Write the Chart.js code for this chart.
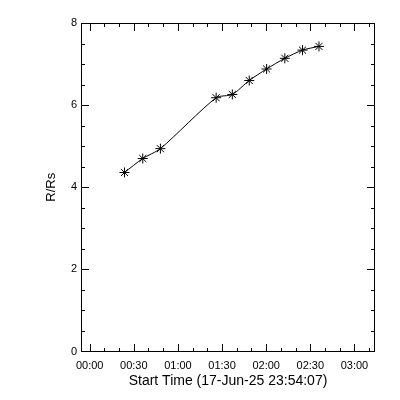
<!DOCTYPE html>
<html>
<head>
<meta charset="utf-8">
<script src="https://cdn.jsdelivr.net/npm/chart.js@4"></script>
<style>
  html, body { margin: 0; padding: 0; background: #fff; }
  #wrap { width: 400px; height: 400px; }
</style>
</head>
<body>
<div id="wrap"><canvas id="chart-height"></canvas></div>
<script>
// DATOS (tiempos UT del 18-Jun, altura en radios solares)
const obsTimes = ['00:23:42', '00:36:06', '00:48:06', '01:26:00', '01:37:00',
                  '01:48:30', '02:00:18', '02:12:42', '02:24:42', '02:35:54'];
const heights = [4.36, 4.70, 4.94, 6.18, 6.26, 6.60, 6.88, 7.14, 7.34, 7.43];
const xTickLabels = ['00:00', '00:30', '01:00', '01:30', '02:00', '02:30', '03:00'];
const yTicks = [0, 2, 4, 6, 8];
const startLabel = 'Start Time (17-Jun-25 23:54:07)';

// minutos respecto a 00:00
function toMinutes(s) {
  const p = s.split(':').map(Number);
  return p[0] * 60 + p[1] + (p[2] || 0) / 60;
}

const points = obsTimes.map((t, i) => ({ x: toMinutes(t), y: heights[i] }));
const xMajors = xTickLabels.map(toMinutes);
const xMin = -(5 + 53 / 60);   // 23:54:07
const xMax = 194;

// MARCO Y MARCAS INTERIORES ESTILO IDL
const framePlugin = {
  id: 'frame',
  afterDraw(chart) {
    const c = chart.ctx;
    const a = chart.chartArea;
    const xs = chart.scales.x, ys = chart.scales.y;
    const L = Math.round(a.left), R = Math.round(a.right) - 1;
    const T = Math.round(a.top), B = Math.round(a.bottom) - 1;
    c.save();
    c.fillStyle = '#000';
    // marco
    c.fillRect(L, T, R - L + 1, 1);
    c.fillRect(L, B, R - L + 1, 1);
    c.fillRect(L, T, 1, B - T + 1);
    c.fillRect(R, T, 1, B - T + 1);
    // eje x: menores cada 10 min, mayores cada 30
    for (let k = 0; k * 10 <= xMax; k++) {
      const px = Math.round(xs.getPixelForValue(k * 10));
      const len = (k % 3 === 0) ? 8 : 4;
      c.fillRect(px, B - len + 1, 1, len);
      c.fillRect(px, T, 1, len);
    }
    // eje y: menores cada 0.5, mayores cada 2
    for (let k = 0; k <= 16; k++) {
      const py = Math.min(B, Math.round(ys.getPixelForValue(k * 0.5)));
      const len = (k % 4 === 0) ? 8 : 4;
      c.fillRect(L, py, len, 1);
      c.fillRect(R - len + 1, py, len, 1);
    }
    c.restore();
  }
};

const canvas = document.getElementById('chart-height');
const chartHeight = new Chart(canvas, {
  type: 'scatter',
  data: {
    datasets: [
      {
        label: 'ajuste',
        data: points,
        showLine: true,
        borderColor: '#000',
        borderWidth: 1,
        pointRadius: 0,
        tension: 0.25,
        fill: false
      },
      {
        label: 'R/Rs',
        data: points,
        pointStyle: 'star',
        pointRadius: 5,
        borderColor: '#000',
        backgroundColor: '#000',
        borderWidth: 1,
        showLine: false
      }
    ]
  },
  options: {
    responsive: true,
    maintainAspectRatio: false,
    animation: false,
    layout: { padding: { top: 23, right: 25, left: 0, bottom: 0 } },
    plugins: {
      legend: { display: false },
      tooltip: { enabled: false }
    },
    scales: {
      x: {
        type: 'linear',
        min: xMin,
        max: xMax,
        grid: { display: false, drawTicks: false },
        border: { display: false },
        afterBuildTicks: scale => {
          scale.ticks = xMajors.map(v => ({ value: v }));
        },
        afterFit: scale => { scale.height = 48.5; },
        ticks: {
          color: '#000',
          padding: 8,
          maxRotation: 0,
          autoSkip: false,
          font: { family: 'Liberation Sans', size: 11 },
          callback: (v) => {
            const i = xMajors.indexOf(v);
            return i >= 0 ? xTickLabels[i] : '';
          }
        },
        title: {
          display: true,
          text: startLabel,
          color: '#000',
          padding: { top: 0, bottom: 10 },
          font: { family: 'Liberation Sans', size: 14 }
        }
      },
      y: {
        min: 0,
        max: 8,
        grid: { display: false, drawTicks: false },
        border: { display: false },
        afterBuildTicks: scale => {
          scale.ticks = yTicks.map(v => ({ value: v }));
        },
        afterFit: scale => { scale.width = 81; },
        ticks: {
          color: '#000',
          padding: 4,
          font: { family: 'Liberation Sans', size: 11 }
        },
        title: {
          display: true,
          text: 'R/Rs',
          color: '#000',
          padding: { top: 44, bottom: 0 },
          font: { family: 'Liberation Sans', size: 13 }
        }
      }
    }
  },
  plugins: [framePlugin]
});
</script>
</body>
</html>
